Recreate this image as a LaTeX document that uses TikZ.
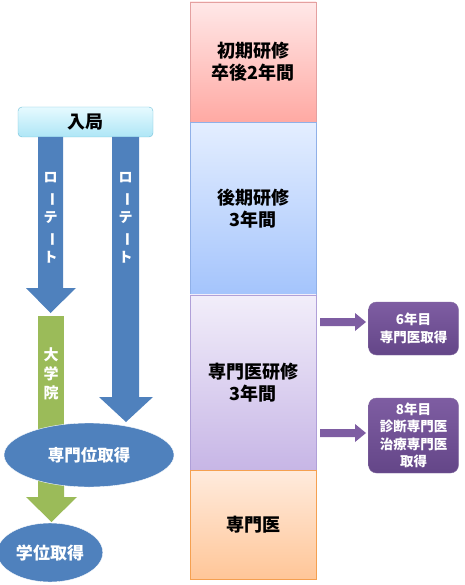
\documentclass[tikz,border=0pt]{standalone}
\usepackage{fontspec}
\setmainfont{Noto Sans CJK JP}
\usepackage{tikz}
\usetikzlibrary{shapes.geometric,positioning}

\definecolor{arrowblue}{HTML}{4F81BD}
\definecolor{arrowgreen}{HTML}{9BBB59}
\definecolor{boxpurple}{HTML}{7E5DA2}
\definecolor{boxpurpledark}{HTML}{644688}
\definecolor{pinktop}{HTML}{FFE8E8}
\definecolor{pinkbot}{HTML}{FFA9A3}
\definecolor{pinkline}{HTML}{E4A0A0}
\definecolor{bluetop}{HTML}{E4EEFF}
\definecolor{bluebot}{HTML}{A4C4FC}
\definecolor{blueline}{HTML}{90B0E8}
\definecolor{lilatop}{HTML}{F2EEFA}
\definecolor{lilabot}{HTML}{C7B6E6}
\definecolor{lilaline}{HTML}{B0A0D8}
\definecolor{oratop}{HTML}{FFEBDD}
\definecolor{orabot}{HTML}{FFC698}
\definecolor{oraline}{HTML}{F5A050}
\definecolor{nyutop}{HTML}{E6FAFF}
\definecolor{nyubot}{HTML}{AEE6F6}
\definecolor{nyuline}{HTML}{70C0D8}

\newcommand\tatebar{\rotatebox[origin=c]{-90}{ー}}

\tikzset{
  col/.style={draw, minimum width=126pt, inner sep=0pt, align=center,
    font=\fontsize{18}{22}\selectfont\bfseries},
  tate/.style={text=white, align=center, inner sep=0pt},
  kekka/.style={ellipse, fill=arrowblue, draw=white, text=white,
    font=\fontsize{16.5}{20}\selectfont\bfseries},
  shutoku/.style={rounded corners=8pt, top color=boxpurple, bottom color=boxpurpledark,
    draw=boxpurpledark!80, text=white, align=center, minimum width=90pt,
    font=\fontsize{13.5}{17.5}\selectfont\bfseries},
}

\begin{document}
\begin{tikzpicture}[x=1pt,y=-1pt,node distance=0pt]
  \useasboundingbox (0,0) rectangle (464,585);

  % training columns
  \node[col, minimum height=120pt, top color=pinktop, bottom color=pinkbot,
    draw=pinkline] (shoki) at (253,62) {初期研修\\卒後2年間};
  \node[col, minimum height=172pt, top color=bluetop, bottom color=bluebot,
    draw=blueline, below=of shoki] (kouki) {後期研修\\3年間};
  \node[col, minimum height=175pt, top color=lilatop, bottom color=lilabot,
    draw=lilaline, below=of kouki] (senmon) {専門医研修\\3年間};
  \node[col, minimum height=109pt, top color=oratop, bottom color=orabot,
    draw=oraline, below=of senmon] (senmoni) {専門医};

  % left path
  \node[rounded corners=4pt, top color=nyutop, bottom color=nyubot, draw=nyuline,
    minimum width=135pt, minimum height=30pt, font=\fontsize{18}{20}\selectfont\bfseries]
    (nyukyoku) at (85.5,122) {入局};

  \fill[arrowblue] (38,137) -- (63,137) -- (63,288) -- (76,288) -- (50.5,313)
    -- (26,288) -- (38,288) -- cycle;
  \fill[arrowblue] (112,137) -- (139,137) -- (139,397) -- (153,397) -- (126,422)
    -- (99,397) -- (112,397) -- cycle;
  \node[tate, font=\fontsize{14}{20}\selectfont\bfseries] (rote1) at (50.5,218)
    {ロ\\\tatebar\\テ\\\tatebar\\ト};
  \node[tate, font=\fontsize{14}{20}\selectfont\bfseries] (rote2) at (125.5,218)
    {ロ\\\tatebar\\テ\\\tatebar\\ト};

  \fill[arrowgreen] (38,316) rectangle (64,440);
  \fill[arrowgreen] (38,470) -- (64,470) -- (64,497) -- (77,497) -- (51.5,522)
    -- (26,497) -- (38,497) -- cycle;
  \node[tate, font=\fontsize{15}{19}\selectfont\bfseries] (daigakuin) at (51,374)
    {大\\学\\院};

  \node[kekka, minimum width=170pt, minimum height=64pt] (senmoni2) at (89,455)
    {専門位取得};
  \node[kekka, minimum width=94pt, minimum height=59pt,
    font=\fontsize{17}{20}\selectfont\bfseries] (gakui) at (50,552.5) {学位取得};

  % right side
  \node[shutoku, minimum height=53pt] (rokunen) at (413.5,328.5) {6年目\\専門医取得};
  \node[shutoku, minimum height=75pt] (hachinen) at (413.5,435.5)
    {8年目\\診断専門医\\治療専門医\\取得};

  \fill[boxpurple] (320,318) -- (355,318) -- (355,313) -- (366,322) -- (355,331)
    -- (355,326) -- (320,326) -- cycle;
  \fill[boxpurple] (320,429) -- (355,429) -- (355,424) -- (366,433) -- (355,442)
    -- (355,437) -- (320,437) -- cycle;
\end{tikzpicture}
\end{document}
